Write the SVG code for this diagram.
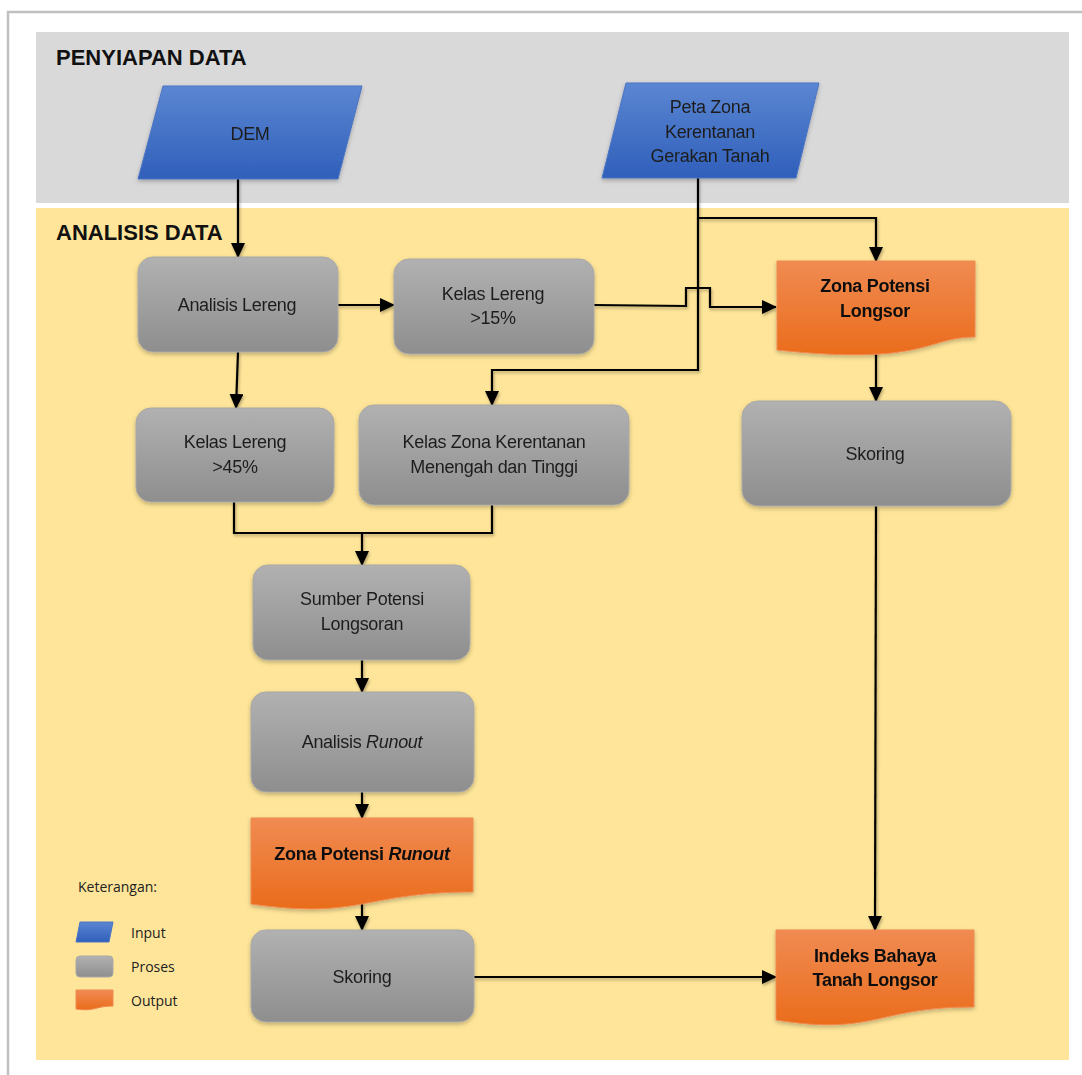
<svg xmlns="http://www.w3.org/2000/svg" width="1082" height="1075" viewBox="0 0 1082 1075">
<defs>
<linearGradient id="gBlue" x1="0" y1="0" x2="0" y2="1"><stop offset="0" stop-color="#5b86d2"/><stop offset="1" stop-color="#2f5fba"/></linearGradient>
<linearGradient id="gGrey" x1="0" y1="0" x2="0" y2="1"><stop offset="0" stop-color="#b1b1b1"/><stop offset="1" stop-color="#8e8e8e"/></linearGradient>
<linearGradient id="gOrange" x1="0" y1="0" x2="0" y2="1"><stop offset="0" stop-color="#f08b52"/><stop offset="1" stop-color="#ea6c1c"/></linearGradient>
<filter id="sh" x="-10%" y="-10%" width="120%" height="130%"><feDropShadow dx="0" dy="2" stdDeviation="2" flood-color="#000" flood-opacity="0.25"/></filter>
<filter id="lsh" x="-10%" y="-10%" width="120%" height="120%"><feDropShadow dx="1" dy="2" stdDeviation="1.5" flood-color="#000" flood-opacity="0.3"/></filter>
<marker id="arr" markerUnits="userSpaceOnUse" markerWidth="16" markerHeight="14" refX="14" refY="7" orient="auto"><path d="M0,0 L15,7 L0,14 Z" fill="#000"/></marker>
</defs>
<style>
.frame{stroke:#c0c0c0;stroke-width:2.5;fill:none}
.head{font-family:"Liberation Sans",Arial,sans-serif;font-weight:bold;font-size:22px;fill:#111}
.t{font-family:"Liberation Sans",Arial,sans-serif;font-size:18px;fill:#1e1e1e;text-anchor:middle;letter-spacing:-0.3px}
.tb{font-family:"Liberation Sans",Arial,sans-serif;font-size:18px;font-weight:bold;fill:#111;text-anchor:middle;letter-spacing:-0.3px}
.lg{font-family:"Open Sans","Liberation Sans",sans-serif;font-size:14px;fill:#222}
.inp{fill:url(#gBlue);stroke:#4a74c4;stroke-width:1}
.proc{fill:url(#gGrey);stroke:#a8a8a8;stroke-width:1}
.out{fill:url(#gOrange);stroke:#f08a50;stroke-width:1}
.c{fill:none;stroke:#000;stroke-width:2.2}
</style>
<rect x="0" y="0" width="1082" height="1075" fill="#fff"/>
<path class="frame" d="M8,1075 V12 H1082"/>
<g id="panel-penyiapan">
<rect x="36" y="32" width="1033" height="171" fill="#d9d9d9"/>
<text class="head" x="56" y="65">PENYIAPAN DATA</text>
</g>
<g id="panel-analisis">
<rect x="36" y="208" width="1033" height="852" fill="#fee599"/>
<text class="head" x="56" y="240">ANALISIS DATA</text>
</g>
<g id="connectors" filter="url(#lsh)">
<path class="c" d="M238,179 V257" marker-end="url(#arr)"/>
<path class="c" d="M338,305 H394" marker-end="url(#arr)"/>
<path class="c" d="M238,352 L236,408" marker-end="url(#arr)"/>
<path class="c" d="M594,305 L686,306 V288 H710 V307 H776" marker-end="url(#arr)"/>
<path class="c" d="M698,178 V218 H876 V261" marker-end="url(#arr)"/>
<path class="c" d="M698,218 V370 H492 V405" marker-end="url(#arr)"/>
<path class="c" d="M234,502 V533 H492 V505"/>
<path class="c" d="M362,533 V565" marker-end="url(#arr)"/>
<path class="c" d="M362,660 V692" marker-end="url(#arr)"/>
<path class="c" d="M362,792 V818" marker-end="url(#arr)"/>
<path class="c" d="M362,903 V930" marker-end="url(#arr)"/>
<path class="c" d="M876,345 V401" marker-end="url(#arr)"/>
<path class="c" d="M876,506 L875,930" marker-end="url(#arr)"/>
<path class="c" d="M474,977 H776" marker-end="url(#arr)"/>
</g>
<g id="dem" filter="url(#sh)">
<polygon class="inp" points="163,86 362,86 338,179 138,179"/>
<text class="t" x="250" y="140">DEM</text>
</g>
<g id="peta-zona" filter="url(#sh)">
<polygon class="inp" points="626,83 819,83 796,178 602,178"/>
<text class="t" x="710" y="113">Peta Zona</text>
<text class="t" x="710" y="138">Kerentanan</text>
<text class="t" x="710" y="162">Gerakan Tanah</text>
</g>
<g id="analisis-lereng" filter="url(#sh)">
<rect class="proc" x="138" y="257" width="200" height="95" rx="15"/>
<text class="t" x="237" y="311">Analisis Lereng</text>
</g>
<g id="kelas-lereng-15" filter="url(#sh)">
<rect class="proc" x="394" y="259" width="200" height="95" rx="15"/>
<text class="t" x="493" y="300">Kelas Lereng</text>
<text class="t" x="493" y="324">&gt;15%</text>
</g>
<g id="zona-potensi-longsor" filter="url(#sh)">
<path class="out" d="M777,261 H975 V337 C926,337 926,366 777,350 Z"/>
<text class="tb" x="875" y="292">Zona Potensi</text>
<text class="tb" x="875" y="317">Longsor</text>
</g>
<g id="kelas-lereng-45" filter="url(#sh)">
<rect class="proc" x="136" y="408" width="198" height="94" rx="15"/>
<text class="t" x="235" y="448">Kelas Lereng</text>
<text class="t" x="235" y="473">&gt;45%</text>
</g>
<g id="kelas-zona" filter="url(#sh)">
<rect class="proc" x="359" y="405" width="270" height="100" rx="15"/>
<text class="t" x="494" y="448">Kelas Zona Kerentanan</text>
<text class="t" x="494" y="473">Menengah dan Tinggi</text>
</g>
<g id="skoring-kanan" filter="url(#sh)">
<rect class="proc" x="742" y="401" width="269" height="105" rx="16"/>
<text class="t" x="875" y="460">Skoring</text>
</g>
<g id="sumber-potensi" filter="url(#sh)">
<rect class="proc" x="253" y="565" width="217" height="95" rx="15"/>
<text class="t" x="362" y="605">Sumber Potensi</text>
<text class="t" x="362" y="630">Longsoran</text>
</g>
<g id="analisis-runout" filter="url(#sh)">
<rect class="proc" x="251" y="692" width="223" height="100" rx="15"/>
<text class="t" x="362" y="748">Analisis <tspan font-style="italic">Runout</tspan></text>
</g>
<g id="zona-potensi-runout" filter="url(#sh)">
<path class="out" d="M251,818 H473 V892 C362,892 362,920 251,904 Z"/>
<text class="tb" x="362" y="860">Zona Potensi <tspan font-style="italic">Runout</tspan></text>
</g>
<g id="skoring-bawah" filter="url(#sh)">
<rect class="proc" x="251" y="930" width="223" height="92" rx="15"/>
<text class="t" x="362" y="983">Skoring</text>
</g>
<g id="indeks-bahaya" filter="url(#sh)">
<path class="out" d="M776,930 H974 V1007 C875,1007 875,1036 776,1020 Z"/>
<text class="tb" x="875" y="962">Indeks Bahaya</text>
<text class="tb" x="875" y="986">Tanah Longsor</text>
</g>
<g id="legend">
<text class="lg" x="78" y="892">Keterangan:</text>
<polygon class="inp" points="80,922 113,922 109,942 76,942"/>
<text class="lg" x="131" y="938">Input</text>
<rect class="proc" x="76" y="956" width="37" height="21" rx="4"/>
<text class="lg" x="131" y="972">Proses</text>
<path class="out" d="M76,990 H113 V1006 C95,1006 95,1012 76,1009 Z"/>
<text class="lg" x="131" y="1006">Output</text>
</g>
</svg>
